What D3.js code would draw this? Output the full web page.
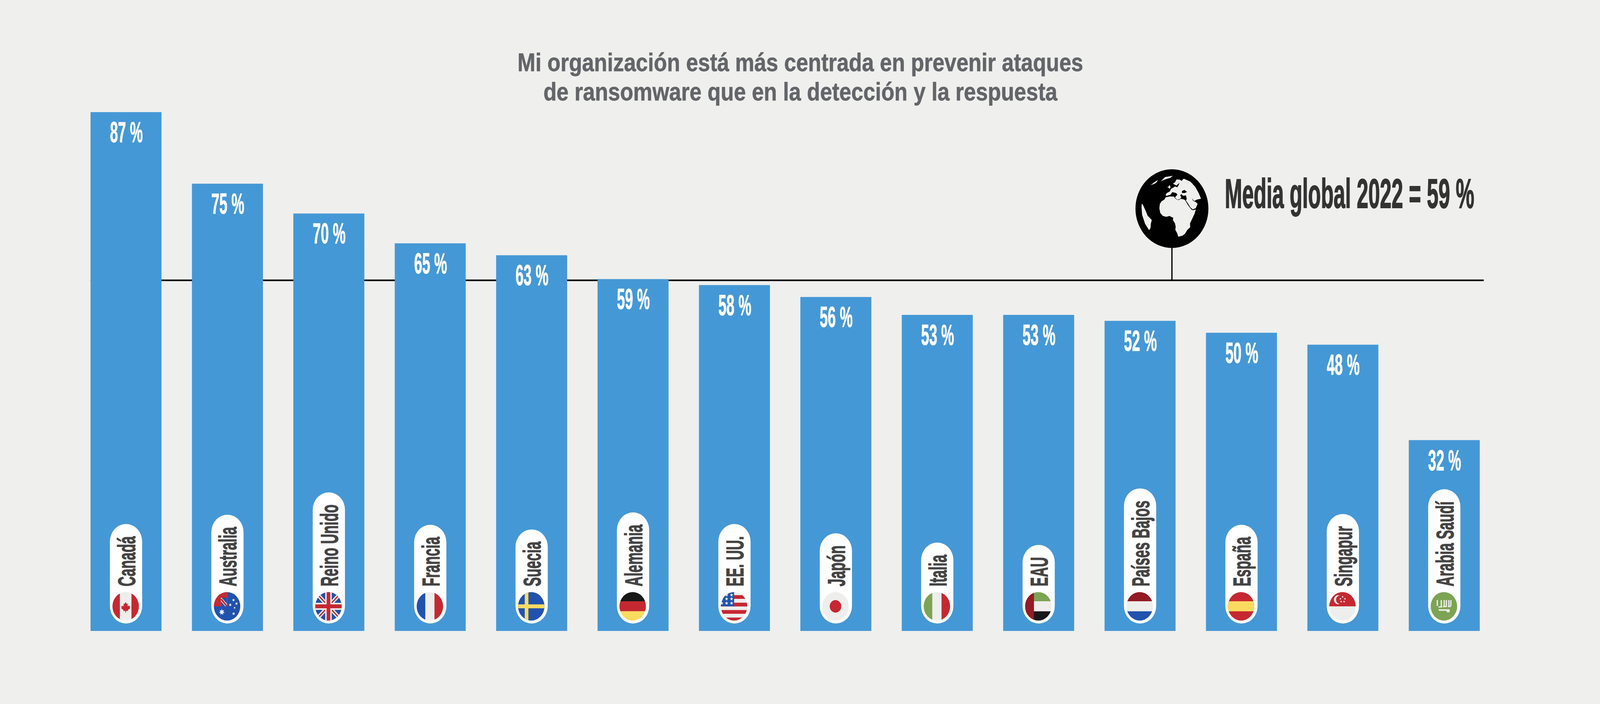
<!DOCTYPE html>
<html lang="es">
<head>
<meta charset="utf-8">
<script src="https://cdn.jsdelivr.net/npm/d3@7"></script>
<style>
html,body{margin:0;padding:0;background:#efefed;overflow:hidden;}
svg{display:block;width:100vw;height:100vh;font-family:"Liberation Sans",Arial,sans-serif;}
</style>
</head>
<body>
<svg id="chart" viewBox="0 0 4418 1802" preserveAspectRatio="none"></svg>
<script>
const countries = ["Canadá","Australia","Reino Unido","Francia","Suecia","Alemania","EE. UU.","Japón","Italia","EAU","Países Bajos","España","Singapur","Arabia Saudí"];
const values = [87,75,70,65,63,59,58,56,53,53,52,50,48,32];
const flags = ["ca","au","gb","fr","se","de","us","jp","it","ae","nl","es","sg","sa"];
const globalMean = 59;
const titleLines = ["Mi organización está más centrada en prevenir ataques","de ransomware que en la detección y la respuesta"];
const meanLabel = "Media global 2022 = 59 %";

const C = {bg:"#efefed",bar:"#4598d6",title:"#636569",label:"#444444",mean:"#333333",
  red:"#c62831",white:"#eeeeec",blue:"#2152ad",yellow:"#fadb60",green:"#7ca453",maroon:"#921b24",black:"#181818"};

const svg = d3.select("#chart");
const x = d3.scaleBand().domain(countries).range([250, 250 + 14*280 - 84]).paddingInner(0.3).paddingOuter(0);
const y = d3.scaleLinear().domain([0,87]).range([1615,287]);
const data = countries.map((c,i)=>({country:c,value:values[i],flag:flags[i]}));

/* title */
const titleWidths = [1562,1419];
svg.append("g").selectAll("text").data(titleLines).join("text")
  .attr("x",2210).attr("y",(d,i)=>182+75*i)
  .attr("text-anchor","middle").attr("font-size",64).attr("font-weight",700).attr("fill",C.title)
  .attr("stroke",C.title).attr("stroke-width",0.8)
  .attr("textLength",(d,i)=>titleWidths[i]).attr("lengthAdjust","spacingAndGlyphs").text(d=>d);

/* mean line behind bars */
const meanY = y(globalMean)+3;
svg.append("line").attr("x1",x.range()[0]).attr("x2",4097).attr("y1",meanY).attr("y2",meanY)
  .attr("stroke","#000").attr("stroke-width",4);
const globeX = 3236, globeY = 534, globeR = 100.7;
svg.append("line").attr("x1",globeX).attr("x2",globeX).attr("y1",globeY).attr("y2",meanY)
  .attr("stroke","#000").attr("stroke-width",3.5);

/* bars */
svg.append("g").selectAll("rect").data(data).join("rect")
  .attr("x",d=>x(d.country)).attr("y",d=>y(d.value))
  .attr("width",x.bandwidth()).attr("height",d=>y(0)-y(d.value)).attr("fill",C.bar);

/* value labels */
svg.append("g").selectAll("text").data(data).join("text")
  .attr("x",d=>x(d.country)+x.bandwidth()/2+1).attr("y",d=>y(d.value)+77)
  .attr("text-anchor","middle").attr("font-size",74).attr("font-weight",700).attr("fill","#fff")
  .attr("stroke","#fff").attr("stroke-width",1.2)
  .attr("textLength",91).attr("lengthAdjust","spacingAndGlyphs").text(d=>d.value+" %");

/* country pills */
const labelCondense = 0.524;
const pills = svg.append("g").selectAll("g").data(data).join("g")
  .attr("transform",d=>`translate(${x(d.country)+x.bandwidth()/2},0)`);
const pillRect = pills.append("rect").attr("x",-44.5).attr("width",89).attr("rx",44.5).attr("ry",44.5).attr("fill","#fff");
const labels = pills.append("text")
  .attr("font-size",68).attr("font-weight",700).attr("fill",C.label)
  .attr("stroke",C.label).attr("stroke-width",1.6)
  .text(d=>d.country);
labels.each(function(d){
  const len = this.getComputedTextLength()*labelCondense;
  d.labelLen = len;
  d3.select(this).attr("textLength",len).attr("lengthAdjust","spacingAndGlyphs")
    .attr("transform","translate(25,1501) rotate(-90)");
});
pillRect.attr("y",d=>1501-d.labelLen-31).attr("height",d=>1596-(1501-d.labelLen-31));

/* flags */
const defs = svg.append("defs");
const flagR = 36.5;
defs.append("clipPath").attr("id","flagClip").append("circle").attr("r",flagR);
function star(n,ro,ri,cx,cy){
  const pts=[];
  for(let i=0;i<n*2;i++){
    const a=-Math.PI/2+i*Math.PI/n, r=i%2?ri:ro;
    pts.push([cx+r*Math.cos(a),cy+r*Math.sin(a)]);
  }
  return "M"+pts.map(p=>p.join(",")).join("L")+"Z";
}
const rect=(g,x0,y0,w,h,f)=>g.append("rect").attr("x",x0).attr("y",y0).attr("width",w).attr("height",h).attr("fill",f);
const path=(g,d,f)=>g.append("path").attr("d",d).attr("fill",f);
const S=40;
const draw={
  ca(g){rect(g,-S,-S,2*S,2*S,C.white);rect(g,-S,-S,S-16,2*S,C.red);rect(g,16,-S,S-16,2*S,C.red);
    path(g,"M0,-11L3,-6L6,-7.5L5,0L8,-2.5L9,0L12.5,-0.5L11,3.5L12.5,5L6,9.5L6.5,12L1,11.5L1,16L-1,16L-1,11.5L-6.5,12L-6,9.5L-12.5,5L-11,3.5L-12.5,-0.5L-9,0L-8,-2.5L-5,0L-6,-7.5L-3,-6Z",C.red);},
  au(g){rect(g,-S,-S,2*S,2*S,C.blue);rect(g,-S,-S,S,S,C.white);
    path(g,"M-15,-22L0,-22L0,-6Z",C.blue);path(g,"M-17,-13L-17,0L-5,0Z",C.blue);
    rect(g,-S,-S,S,S-22,C.red);rect(g,-S,-S,S-17,S,C.red);
    path(g,"M-17,-19L-14,-19L0,-3L0,0L-3,0L-17,-16Z",C.red);
    path(g,star(7,8.5,4,-14.5,14.7),C.white);
    [[17.7,-16,4.2],[26,-7,4.2],[8.7,-3.7,4.2],[20.7,3.7,3],[18,18.7,4.2]].forEach(s=>path(g,star(7,s[2],s[2]*.48,s[0],s[1]),C.white));},
  gb(g){rect(g,-S,-S,2*S,2*S,C.blue);
    [[-S,-S,S,S],[-S,S,S,-S]].forEach(l=>{
      g.append("line").attr("x1",l[0]).attr("y1",l[1]).attr("x2",l[2]).attr("y2",l[3]).attr("stroke",C.white).attr("stroke-width",10);
      g.append("line").attr("x1",l[0]).attr("y1",l[1]).attr("x2",l[2]).attr("y2",l[3]).attr("stroke",C.red).attr("stroke-width",3.5);});
    rect(g,-9,-S,18,2*S,C.white);rect(g,-S,-9,2*S,18,C.white);
    rect(g,-5,-S,10,2*S,C.red);rect(g,-S,-5,2*S,10,C.red);},
  fr(g){rect(g,-S,-S,2*S,2*S,C.white);rect(g,-S,-S,S-12.7,2*S,C.blue);rect(g,12.7,-S,S-12.7,2*S,C.red);},
  se(g){rect(g,-S,-S,2*S,2*S,C.blue);rect(g,-18,-S,10,2*S,C.yellow);rect(g,-S,-5,2*S,10,C.yellow);},
  de(g){rect(g,-S,-S,2*S,S-13,C.black);rect(g,-S,-13,2*S,25.7,C.red);rect(g,-S,12.7,2*S,S,C.yellow);},
  us(g){rect(g,-S,-S,2*S,2*S,C.white);
    [-28.7,-9.3,9.5,28.7].forEach(s=>rect(g,-S,s,2*S,9.6,C.red));
    rect(g,-S,-S,S,S,C.blue);
    [[-7,-29],[-20.7,-29],[-7,-19],[-20.7,-19],[-34,-19],[-7,-8],[-20.7,-8],[-34,-8]].forEach(s=>path(g,star(5,5,2.1,s[0],s[1]),C.white));},
  jp(g){rect(g,-S,-S,2*S,2*S,C.white);g.append("circle").attr("r",16).attr("fill",C.red);},
  it(g){rect(g,-S,-S,2*S,2*S,C.white);rect(g,-S,-S,S-12.8,2*S,C.green);rect(g,12.8,-S,S-12.8,2*S,C.red);},
  ae(g){rect(g,-S,-S,2*S,S-13,C.green);rect(g,-S,-13,2*S,25.7,C.white);rect(g,-S,12.7,2*S,S,C.black);rect(g,-S,-S,S-12,2*S,C.maroon);},
  nl(g){rect(g,-S,-S,2*S,S-13,C.maroon);rect(g,-S,-13,2*S,25.7,C.white);rect(g,-S,12.7,2*S,S,C.blue);},
  es(g){rect(g,-S,-S,2*S,2*S,C.red);rect(g,-S,-13,2*S,25.7,C.yellow);},
  sg(g){rect(g,-S,-S,2*S,S,C.red);rect(g,-S,0,2*S,S,C.white);
    path(g,"M-7.5,-27.5A11.5,11.5 0 1 0 -7.5,-6.5A10.5,10.5 0 0 1 -7.5,-27.5Z",C.white);
    [[0.3,-24.3],[6.7,-19.3],[4.3,-12],[-3.7,-12],[-6,-19.3]].forEach(s=>path(g,star(5,3.2,1.3,s[0],s[1]),C.white));},
  sa(g){rect(g,-S,-S,2*S,2*S,C.green);
    [[-20,-16,3.5,15],[-15,0,10,3],[-9,-16,3.5,19],[-3,-1,10,3.2],[-1,-16,3.5,17],[5,-16,3.5,17],[12,-16,3.5,17],[17.5,-16,3.5,15],[11,-1,8,3]].forEach(r=>rect(g,r[0],r[1],r[2],r[3],C.white));
    path(g,"M-15,7.5L16,7.5L16,13Q16,15.5 13,15.5L9.5,15.5Q7.5,15.5 7.5,13L7.5,11.5L-11,11.5Q-15,11.5 -15,7.5Z",C.white);}
};
const flagGroups = svg.append("g").selectAll("g").data(data).join("g")
  .attr("transform",d=>`translate(${x(d.country)+x.bandwidth()/2-1},1552)`);
flagGroups.each(function(d){
  const g=d3.select(this).append("g").attr("clip-path","url(#flagClip)");
  draw[d.flag](g);
});

/* globe: outlines traced in a 3x frame around the globe's centre */
const c0=[347,342];
const land=[
 [[243,340],[247,305],[262,285],[285,272],[295,255],[330,248],[365,250],[372,262],[385,272],[405,276],[415,268],[430,268],[452,274],[460,283],[475,307],[490,328],[512,352],[525,354],[545,348],[535,380],[515,420],[497,455],[498,485],[475,505],[455,535],[435,550],[400,558],[390,530],[375,505],[378,480],[372,455],[355,430],[358,412],[340,405],[328,398],[300,405],[272,398],[250,375]],
 [[445,112],[500,135],[540,175],[570,225],[588,266],[555,272],[530,284],[515,262],[522,282],[545,292],[560,305],[545,338],[520,348],[500,333],[482,305],[462,278],[470,268],[463,240],[440,244],[425,230],[415,240],[425,255],[415,266],[400,273],[385,270],[372,256],[388,240],[392,232],[380,222],[350,215],[335,235],[300,245],[295,235],[305,222],[330,210],[340,190],[360,180],[372,172],[392,178],[400,165],[410,145],[395,155],[385,165],[355,150],[372,140],[385,118],[415,120],[425,130]],
 [[308,178],[322,170],[328,158],[336,180],[325,190],[318,180]],
 [[255,132],[290,100],[355,90],[335,105],[300,115],[270,125]],
 [[170,163],[195,143],[230,122],[222,138],[205,150],[185,157]],
 [[97,305],[105,310],[130,360],[145,395],[180,430],[172,460],[170,490],[158,508],[125,460],[100,390],[95,330]]
];
const blackSea=[[430,207],[450,198],[472,213],[455,222],[430,222]];
const globe=svg.append("g").attr("transform",`translate(${globeX},${globeY})`);
globe.append("circle").attr("r",globeR).attr("fill","#000");
const gl=globe.append("g").attr("transform",`scale(${1/3}) translate(${-c0[0]},${-c0[1]})`);
const lineGen=d3.line().curve(d3.curveLinearClosed);
gl.selectAll("path.land").data(land).join("path").attr("class","land").attr("d",lineGen).attr("fill",C.bg);
gl.append("path").attr("d",lineGen(blackSea)).attr("fill","#000");

/* mean label */
const meanText = svg.append("text").attr("font-size",105).attr("font-weight",700)
  .attr("fill",C.mean).attr("stroke",C.mean).attr("stroke-width",2).text(meanLabel);
const meanScale = 689/meanText.node().getComputedTextLength();
meanText.attr("transform",`translate(3382,532) scale(${meanScale},1)`);
</script>
</body>
</html>
